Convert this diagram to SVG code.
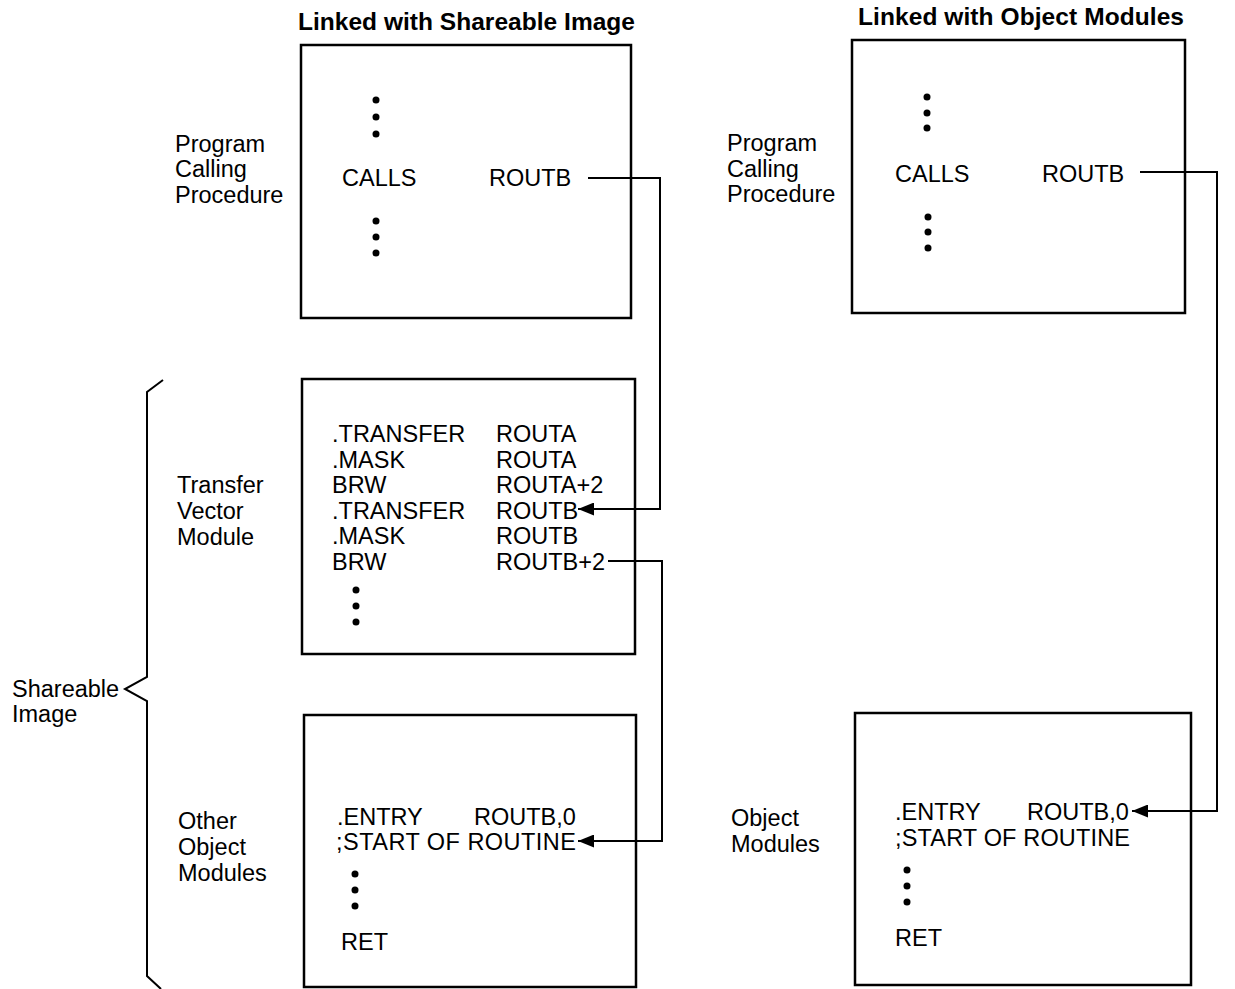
<svg xmlns="http://www.w3.org/2000/svg" width="1235" height="989" viewBox="0 0 1235 989">
<style>
.t{font-family:"Liberation Sans",Arial,sans-serif;font-size:23.5px;fill:#000}
.h{font-family:"Liberation Sans",Arial,sans-serif;font-size:24.5px;font-weight:bold;fill:#000}
.box{fill:none;stroke:#000;stroke-width:2.5}
.ln{fill:none;stroke:#000;stroke-width:2}
.dot{fill:#000}
</style>
<defs>
<marker id="ah" viewBox="0 0 16 13" refX="16" refY="6.5" markerWidth="16" markerHeight="13" markerUnits="userSpaceOnUse" orient="auto">
<path d="M0,0 L16,6.5 L0,13 z" fill="#000"/>
</marker>
</defs>
<rect width="1235" height="989" fill="#fff"/>

<text class="h" x="298" y="30" textLength="337">Linked with Shareable Image</text>
<text class="h" x="858" y="25" textLength="326">Linked with Object Modules</text>

<g id="label-shareable">
<path class="ln" d="M163,380 L147,392 L147,677 L125,689 L147,701 L147,976 L161,989"/>
<text class="t" x="12" y="697">Shareable</text>
<text class="t" x="12" y="722">Image</text>
</g>

<g id="left-calling">
<text class="t" x="175" y="152">Program</text>
<text class="t" x="175" y="177">Calling</text>
<text class="t" x="175" y="203">Procedure</text>
<rect class="box" x="301" y="45" width="330" height="273"/>
<circle class="dot" cx="376" cy="100" r="3.5"/><circle class="dot" cx="376" cy="117" r="3.5"/><circle class="dot" cx="376" cy="134" r="3.5"/>
<text class="t" x="342" y="186">CALLS</text>
<text class="t" x="489" y="186">ROUTB</text>
<circle class="dot" cx="376" cy="221" r="3.5"/><circle class="dot" cx="376" cy="237" r="3.5"/><circle class="dot" cx="376" cy="253" r="3.5"/>
</g>

<g id="transfer-vector">
<text class="t" x="177" y="493">Transfer</text>
<text class="t" x="177" y="519">Vector</text>
<text class="t" x="177" y="545">Module</text>
<rect class="box" x="302" y="379" width="333" height="275"/>
<text class="t" x="332" y="442">.TRANSFER</text><text class="t" x="496" y="442">ROUTA</text>
<text class="t" x="332" y="467.6">.MASK</text><text class="t" x="496" y="467.6">ROUTA</text>
<text class="t" x="332" y="493.2">BRW</text><text class="t" x="496" y="493.2">ROUTA+2</text>
<text class="t" x="332" y="518.8">.TRANSFER</text><text class="t" x="496" y="518.8">ROUTB</text>
<text class="t" x="332" y="544.4">.MASK</text><text class="t" x="496" y="544.4">ROUTB</text>
<text class="t" x="332" y="570">BRW</text><text class="t" x="496" y="570">ROUTB+2</text>
<circle class="dot" cx="356" cy="590" r="3.5"/><circle class="dot" cx="356" cy="606" r="3.5"/><circle class="dot" cx="356" cy="622" r="3.5"/>
</g>

<g id="other-object-modules">
<text class="t" x="178" y="829">Other</text>
<text class="t" x="178" y="855">Object</text>
<text class="t" x="178" y="881">Modules</text>
<rect class="box" x="304" y="715" width="332" height="272"/>
<text class="t" x="337" y="825">.ENTRY</text><text class="t" x="474" y="825">ROUTB,0</text>
<text class="t" x="336" y="850" textLength="240">;START OF ROUTINE</text>
<circle class="dot" cx="355" cy="874" r="3.5"/><circle class="dot" cx="355" cy="890" r="3.5"/><circle class="dot" cx="355" cy="906" r="3.5"/>
<text class="t" x="341" y="950">RET</text>
</g>

<g id="right-calling">
<text class="t" x="727" y="151">Program</text>
<text class="t" x="727" y="177">Calling</text>
<text class="t" x="727" y="202">Procedure</text>
<rect class="box" x="852" y="40" width="333" height="273"/>
<circle class="dot" cx="927" cy="97" r="3.5"/><circle class="dot" cx="927" cy="113" r="3.5"/><circle class="dot" cx="927" cy="128" r="3.5"/>
<text class="t" x="895" y="182">CALLS</text>
<text class="t" x="1042" y="182">ROUTB</text>
<circle class="dot" cx="928" cy="217" r="3.5"/><circle class="dot" cx="928" cy="232" r="3.5"/><circle class="dot" cx="928" cy="248" r="3.5"/>
</g>

<g id="object-modules">
<text class="t" x="731" y="826">Object</text>
<text class="t" x="731" y="852">Modules</text>
<rect class="box" x="855" y="713" width="336" height="272"/>
<text class="t" x="895" y="820">.ENTRY</text><text class="t" x="1027" y="820">ROUTB,0</text>
<text class="t" x="895" y="846" textLength="235">;START OF ROUTINE</text>
<circle class="dot" cx="907" cy="870" r="3.5"/><circle class="dot" cx="907" cy="886" r="3.5"/><circle class="dot" cx="907" cy="902" r="3.5"/>
<text class="t" x="895" y="946">RET</text>
</g>

<g id="connectors">
<path class="ln" d="M588,178 L660,178 L660,509 L578,509" marker-end="url(#ah)"/>
<path class="ln" d="M608,561 L662,561 L662,841 L578,841" marker-end="url(#ah)"/>
<path class="ln" d="M1140,172 L1217,172 L1217,811 L1132,811" marker-end="url(#ah)"/>
</g>
</svg>
